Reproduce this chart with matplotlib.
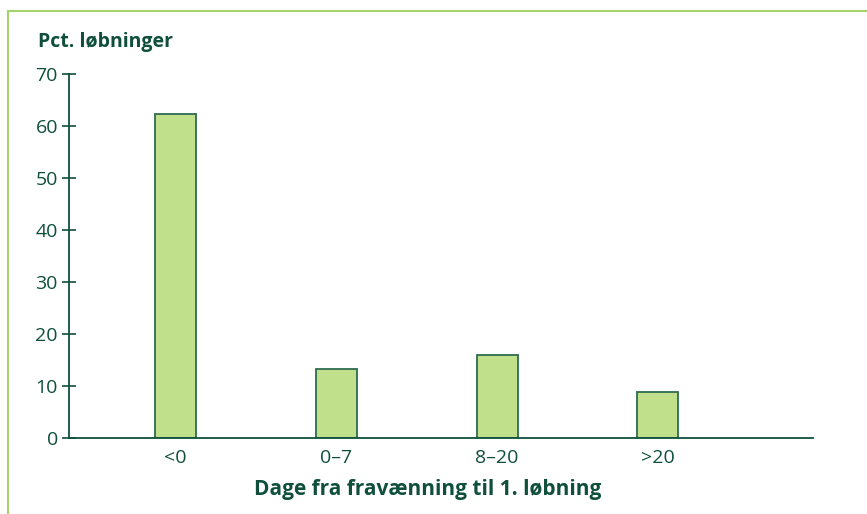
import matplotlib.pyplot as plt
from matplotlib.patches import Rectangle

# Dage fra fravænning til 1. løbning
kategorier = ['<0', '0–7', '8–20', '>20']
pct = [62.3, 13.3, 16.0, 8.8]
yticks = [0, 10, 20, 30, 40, 50, 60, 70]

groen = '#0f4f3c'
plt.rcParams['font.family'] = ['Open Sans', 'DejaVu Sans']

fig = plt.figure(figsize=(8.67, 5.14), dpi=100)
# lysegrøn ramme
fig.patches.append(Rectangle((8/867, -0.1), 1.2, 1 - 11/514 + 0.1,
                             transform=fig.transFigure, fill=False,
                             edgecolor='#a6d26a', linewidth=1.5))

ax = fig.add_axes([69/867, 1 - 438/514, (813 - 69)/867, (438 - 74)/514])
x = range(len(kategorier))
ax.bar(x, pct, width=0.255, color='#c0e08c', edgecolor='#2f6b50', linewidth=1.3)

ax.set_xlim(-0.662, 3.964)
ax.set_ylim(0, 70)
ax.set_yticks(yticks)
ax.set_xticks(list(x))
ax.set_xticklabels(kategorier)
for s in ['top', 'right']:
    ax.spines[s].set_visible(False)
for s in ['left', 'bottom']:
    ax.spines[s].set_color(groen)
    ax.spines[s].set_linewidth(1.3)
ax.tick_params(axis='y', direction='inout', length=10, width=1.2, color=groen,
               labelcolor=groen, labelsize=14, pad=3)
ax.tick_params(axis='x', length=0, labelcolor=groen, labelsize=14, pad=8)

fig.text(428/867, 1 - 490/514, 'Dage fra fravænning til 1. løbning', fontsize=15,
         fontweight='bold', color=groen, ha='center', va='center')
fig.text(38/867, 1 - 42/514, 'Pct. løbninger', fontsize=14, fontweight='bold',
         color=groen, va='center', ha='left')

fig.savefig('out.png', dpi=100)
